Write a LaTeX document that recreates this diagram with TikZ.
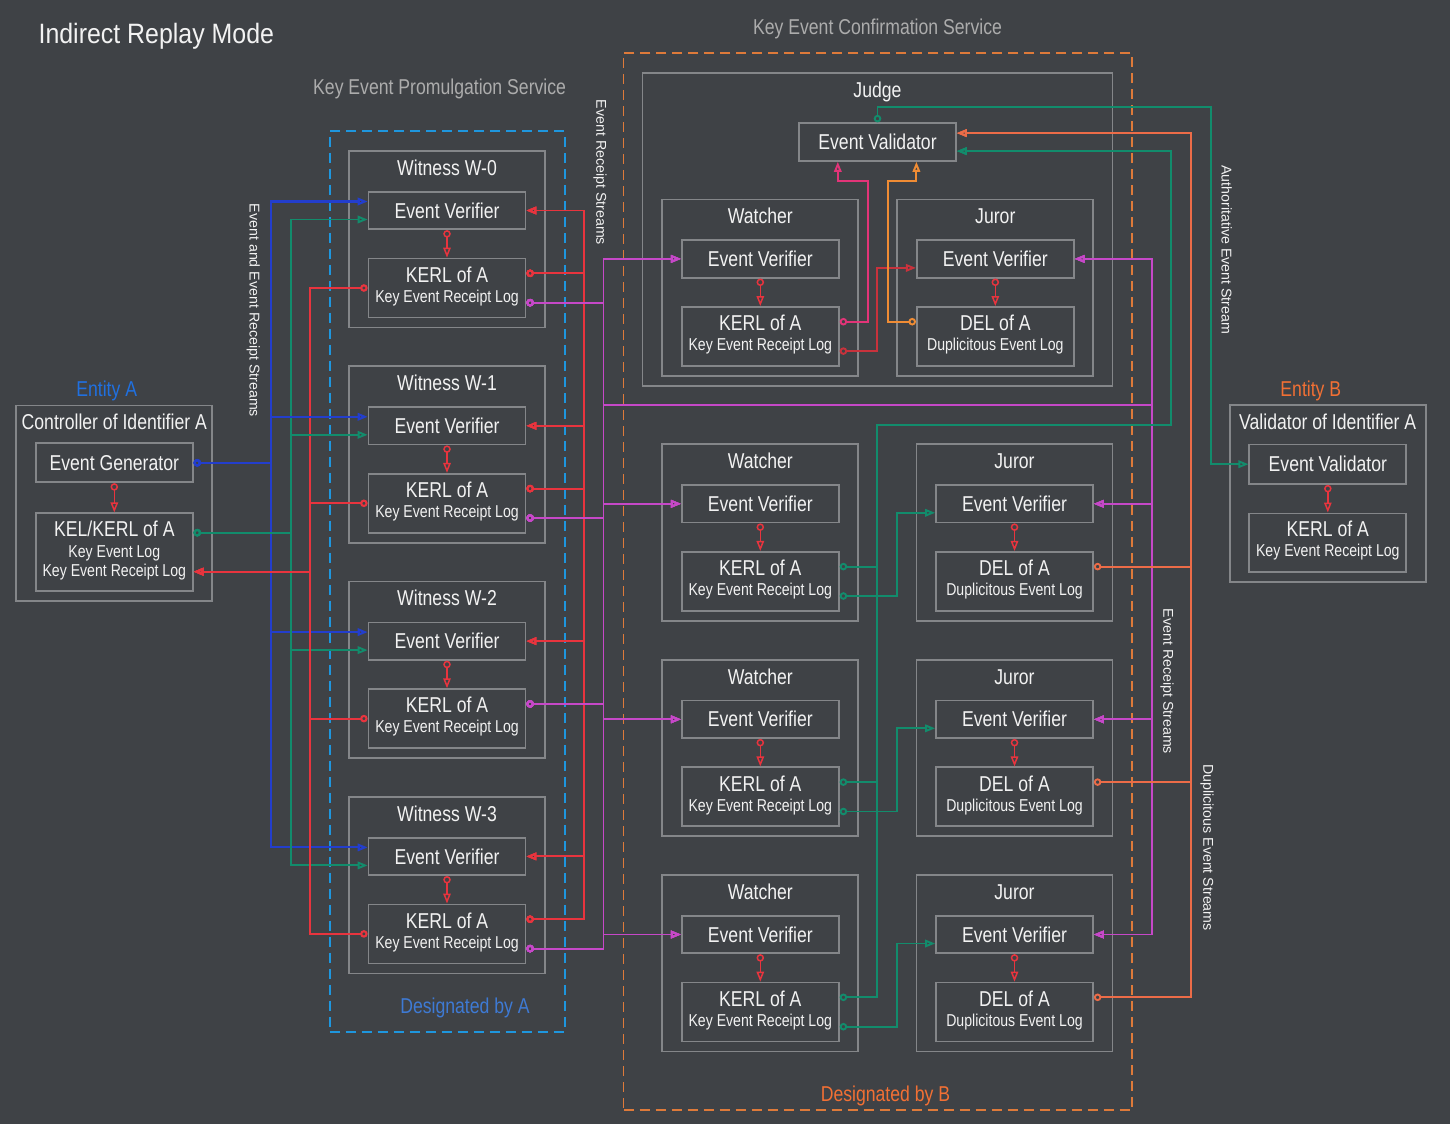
\documentclass[tikz,border=0pt]{standalone}
\usepackage{fontspec}
\setmainfont{Liberation Sans}[FakeStretch=0.82]
\newfontfamily\regf{Liberation Sans}
\newfontfamily\titf{Liberation Sans}[FakeStretch=0.89]
\usetikzlibrary{arrows.meta,calc}
\definecolor{bgc}{RGB}{63,66,70}
\definecolor{boxc}{RGB}{132,134,137}
\definecolor{txtc}{RGB}{242,242,242}
\definecolor{grayl}{RGB}{172,172,172}
\definecolor{blu}{RGB}{35,62,205}
\definecolor{grn}{RGB}{18,140,108}
\definecolor{rdc}{RGB}{232,52,62}
\definecolor{mag}{RGB}{198,72,200}
\definecolor{pnk}{RGB}{226,52,120}
\definecolor{drd}{RGB}{200,50,60}
\definecolor{org}{RGB}{240,140,52}
\definecolor{cor}{RGB}{236,108,72}
\definecolor{dashb}{RGB}{30,150,222}
\definecolor{dasho}{RGB}{222,122,58}
\definecolor{entA}{RGB}{32,112,224}
\definecolor{desA}{RGB}{62,122,212}
\definecolor{entB}{RGB}{242,112,52}
\newcommand\fsz[1]{\fontsize{#1}{#1}\selectfont}
\tikzset{
 box/.style={draw=boxc, line width=1.7pt, inner sep=0pt, text=txtc, font=\fsz{21.5}},
 ttl/.style={inner sep=0pt, text=txtc, font=\fsz{21.5}},
 sub/.style={inner sep=0pt, text=txtc, font=\fsz{17.2}},
 lbl/.style={inner sep=0pt, font=\fsz{21.5}},
 vlab/.style={inner sep=0pt, text=txtc, font=\regf\fsz{14.2}, rotate=-90},
 ln/.style={line width=1.9pt},
 ccon/.style={arrows={Circle[open,length=7.5pt]-Triangle[open,length=10pt,width=7.5pt]}},
 dsh/.style={line width=1.9pt, dash pattern=on 10pt off 6pt, inner sep=0pt},
}
\newcommand\grp[7]{%
 \node[box, minimum width=196pt, minimum height=176.5pt] (#1) at (#2,#3+88.25) {};
 \node[ttl, anchor=base] (#1t) at (#2,#3+24.3) {#4};
 \node[box, minimum width=157pt, minimum height=37.5pt] (#1e) at (#2,#3+59.5) {#5};
 \node[box, minimum width=157pt, minimum height=59pt] (#1k) at (#2,#3+137) {};
 \node[ttl, anchor=base] (#1k1) at (#2,#3+131.3) {#6};
 \node[sub, anchor=base] (#1k2) at (#2,#3+151.3) {#7};
 \draw[ln, rdc, line width=1.5pt, ccon] (#1e.south) -- (#1k.north);
}
\begin{document}
\begin{tikzpicture}[x=1pt,y=-1pt]
\fill[bgc] (0,0) rectangle (1450,1124);
\useasboundingbox (0,0) rectangle (1450,1124);

% titles and service labels
\node[anchor=base west, inner sep=0pt, text=txtc, font=\titf\fsz{28}] (title) at (38.4,43.3) {Indirect Replay Mode};
\node[lbl, anchor=base, text=grayl] (kepl) at (439.6,94) {Key Event Promulgation Service};
\node[lbl, anchor=base, text=grayl] (kecl) at (877.5,35) {Key Event Confirmation Service};

% dashed service regions
\node[dsh, draw=dashb, minimum width=234.9pt, minimum height=900.7pt] (kep) at (447.15,581.35) {};
\node[dsh, draw=dasho, minimum width=508.9pt, minimum height=1057pt] (kec) at (877.95,581.5) {};
\node[lbl, anchor=base, text=desA] (desa) at (465,1013) {Designated by A};
\node[lbl, anchor=base, text=entB] (desb) at (885.5,1101.7) {Designated by B};

% vertical labels
\node[vlab] (l1) at (253.3,310.5) {Event and Event Receipt Streams};
\node[vlab] (l2) at (600,172.5) {Event Receipt Streams};
\node[vlab] (l3) at (1226.7,249.7) {Authoritative Event Stream};
\node[vlab] (l4) at (1167,681.5) {Event Receipt Streams};
\node[vlab] (l5) at (1207,847.5) {Duplicitous Event Streams};

% Entity A
\node[lbl, anchor=base, text=entA] (enta) at (106.7,396.7) {Entity A};
\node[box, minimum width=196pt, minimum height=195.7pt] (ea) at (114.3,503.2) {};
\node[ttl, anchor=base] (eat) at (114.3,429.3) {Controller of Identifier A};
\node[box, minimum width=156.7pt, minimum height=39pt] (eg) at (114.3,462.8) {Event Generator};
\node[box, minimum width=156.7pt, minimum height=78pt] (kel) at (114.3,552.3) {};
\node[ttl, anchor=base] (kel1) at (114.3,536.7) {KEL/KERL of A};
\node[sub, anchor=base] (kel2) at (114.3,557.3) {Key Event Log};
\node[sub, anchor=base] (kel3) at (114.3,576) {Key Event Receipt Log};
\draw[ln, rdc, line width=1.5pt, ccon] (eg.south) -- (kel.north);

% Entity B
\node[lbl, anchor=base, text=entB] (entb) at (1310.8,396) {Entity B};
\node[box, minimum width=196pt, minimum height=176.4pt] (eb) at (1327.7,493.5) {};
\node[ttl, anchor=base] (ebt) at (1327.7,429.3) {Validator of Identifier A};
\node[box, minimum width=157pt, minimum height=39.7pt] (bev) at (1327.8,464.2) {Event Validator};
\node[box, minimum width=157pt, minimum height=58.7pt] (bk) at (1327.8,542.7) {};
\node[ttl, anchor=base] (bk1) at (1327.8,536.7) {KERL of A};
\node[sub, anchor=base] (bk2) at (1327.8,556.7) {Key Event Receipt Log};
\draw[ln, rdc, line width=1.5pt, ccon] (bev.south) -- (bk.north);

% Witnesses
\grp{w0}{447}{151}{Witness W-0}{Event Verifier}{KERL of A}{Key Event Receipt Log}
\grp{w1}{447}{366.3}{Witness W-1}{Event Verifier}{KERL of A}{Key Event Receipt Log}
\grp{w2}{447}{581.6}{Witness W-2}{Event Verifier}{KERL of A}{Key Event Receipt Log}
\grp{w3}{447}{796.9}{Witness W-3}{Event Verifier}{KERL of A}{Key Event Receipt Log}

% Judge
\node[box, minimum width=470pt, minimum height=313.3pt] (jd) at (877.5,229.35) {};
\node[ttl, anchor=base] (jdt) at (877.5,97) {Judge};
\node[box, minimum width=157pt, minimum height=37.7pt] (jev) at (877.5,142.1) {Event Validator};
\grp{jw}{760.3}{199.4}{Watcher}{Event Verifier}{KERL of A}{Key Event Receipt Log}
\grp{jj}{995.3}{199.4}{Juror}{Event Verifier}{DEL of A}{Duplicitous Event Log}

% Watchers and jurors
\grp{wa1}{760.3}{444.3}{Watcher}{Event Verifier}{KERL of A}{Key Event Receipt Log}
\grp{wa2}{760.3}{659.8}{Watcher}{Event Verifier}{KERL of A}{Key Event Receipt Log}
\grp{wa3}{760.3}{875}{Watcher}{Event Verifier}{KERL of A}{Key Event Receipt Log}
\grp{ju1}{1014.5}{444.3}{Juror}{Event Verifier}{DEL of A}{Duplicitous Event Log}
\grp{ju2}{1014.5}{659.8}{Juror}{Event Verifier}{DEL of A}{Duplicitous Event Log}
\grp{ju3}{1014.5}{875}{Juror}{Event Verifier}{DEL of A}{Duplicitous Event Log}

% bus coordinates
\coordinate (xB) at (270.7,0);
\coordinate (xG) at (290.7,0);
\coordinate (xR) at (310.3,0);
\coordinate (xRR) at (583.8,0);
\coordinate (xM) at (603.5,0);
\coordinate (mH) at (0,405.3);
\coordinate (xMR) at (1151.7,0);
\coordinate (xW) at (877.4,0);
\coordinate (xJ) at (897,0);
\coordinate (gH) at (0,425);
\coordinate (xGR) at (1171,0);
\coordinate (xC) at (1190.7,0);
\coordinate (xGA) at (1211,0);
\coordinate (gT) at (0,106.7);
\coordinate (kelG) at ([yshift=19.6pt]kel.east);
\coordinate (kelR) at ([yshift=-19.4pt]kel.east);

% Entity A <-> witnesses
\foreach \ix in {0,1,2,3} {
  \coordinate (w\ix b) at ([yshift=9pt]w\ix e.west);
  \coordinate (w\ix g) at ([yshift=-9pt]w\ix e.west);
  \coordinate (w\ix ru) at ([yshift=14.7pt]w\ix k.east);
  \draw[ln, blu, line width=2.1pt, ccon] (eg.east) -| (xB |- w\ix b) -- (w\ix b);
  \draw[ln, grn, ccon] (kelG) -| (xG |- w\ix g) -- (w\ix g);
  \draw[ln, rdc, line width=2.1pt, ccon] (w\ix k.west) -| (xR |- kelR) -- (kelR);
}
\coordinate (w0m) at ([yshift=-14.7pt]w0k.east);
\coordinate (w1m) at ([yshift=-14.7pt]w1k.east);
\coordinate (w2m) at ([yshift=14.7pt]w2k.east);
\coordinate (w3m) at ([yshift=-14.7pt]w3k.east);

% witness to witness receipts
\foreach \sr in {0,1,3} {
  \foreach \tg in {0,1,2,3} {
    \draw[ln, rdc, ccon] (w\sr ru) -| (xRR |- w\tg e.east) -- (w\tg e.east);
  }
}

% receipt streams to watchers and jurors
\foreach \sr in {0,1,2,3} {
  \foreach \tg in {jw,wa1,wa2,wa3} {
    \draw[ln, mag, ccon] (w\sr m) -| (xM |- \tg e.west) -- (\tg e.west);
  }
  \foreach \tg in {jj,ju1,ju2,ju3} {
    \draw[ln, mag, ccon] (w\sr m) -| (xM |- mH) -| (xMR |- \tg e.east) -- (\tg e.east);
  }
}

% judge internals
\coordinate (pkA) at (867.8,180.7);
\coordinate (pkB) at (837.8,180.7);
\coordinate (orA) at (887.6,180.7);
\coordinate (orB) at (916.4,180.7);
\coordinate (jjg) at ([yshift=-9pt]jje.west);
\draw[ln, pnk, ccon] ([yshift=14.7pt]jwk.east) -| (pkA) -- (pkB) -- (pkB |- jev.south);
\draw[ln, drd, ccon] ([yshift=-14.7pt]jwk.east) -| (xW |- jjg) -- (jjg);
\draw[ln, org, ccon] ([yshift=14.7pt]jjk.west) -| (orA) -- (orB) -- (orB |- jev.south);

% watchers/jurors to judge
\coordinate (jevC) at ([yshift=9pt]jev.east);
\coordinate (jevG) at ([yshift=-9pt]jev.east);
\foreach \ix in {1,2,3} {
  \coordinate (ju\ix g) at ([yshift=-9pt]ju\ix e.west);
  \draw[ln, cor, ccon] ([yshift=14.7pt]ju\ix k.east) -| (xC |- jevC) -- (jevC);
  \draw[ln, grn, ccon] ([yshift=14.7pt]wa\ix k.east) -| (xW |- gH) -| (xGR |- jevG) -- (jevG);
  \draw[ln, grn, ccon] ([yshift=-14.7pt]wa\ix k.east) -| (xJ |- ju\ix g) -- (ju\ix g);
}

% authoritative event stream
\draw[ln, grn, ccon] (jev.north) -- (jev.north |- gT) -| (xGA |- bev.west) -- (bev.west);

\end{tikzpicture}
\end{document}
